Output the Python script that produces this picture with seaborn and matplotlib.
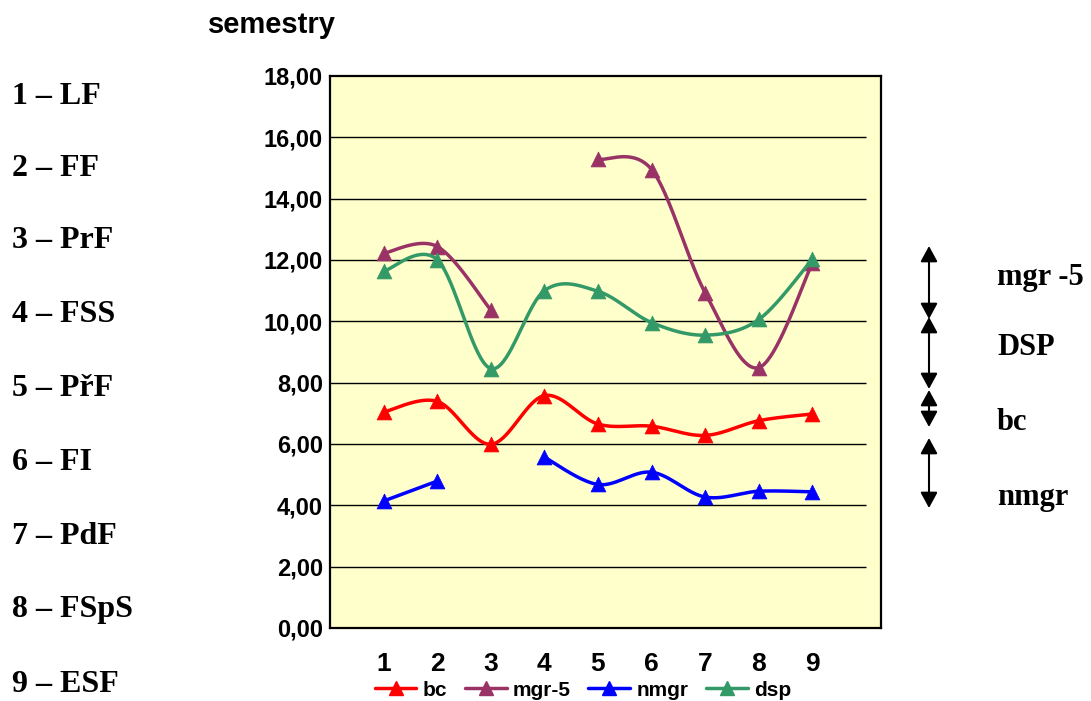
import numpy as np
import pandas as pd
import matplotlib
matplotlib.use("Agg")
import matplotlib.pyplot as plt
from matplotlib.lines import Line2D
import seaborn as sns

# ---------------- data ----------------
semesters = [1, 2, 3, 4, 5, 6, 7, 8, 9]
bc = [7.04, 7.39, 5.99, 7.58, 6.65, 6.58, 6.28, 6.76, 6.98]
mgr5 = [12.22, 12.44, 10.37, np.nan, 15.28, 14.95, 10.93, 8.49, 11.90]
nmgr = [4.14, 4.79, np.nan, 5.57, 4.68, 5.08, 4.27, 4.46, 4.44]
dsp = [11.63, 12.01, 8.46, 11.00, 10.98, 9.96, 9.55, 10.06, 12.03]
series_names = ["bc", "mgr-5", "nmgr", "dsp"]
series_values = [bc, mgr5, nmgr, dsp]
series_colors = ["#FF0000", "#993366", "#0000FF", "#339966"]
y_ticks = [0, 2, 4, 6, 8, 10, 12, 14, 16, 18]
left_labels = ["1 – LF", "2 – FF", "3 – PrF", "4 – FSS", "5 – PřF",
               "6 – FI", "7 – PdF", "8 – FSpS", "9 – ESF"]
right_labels = ["mgr -5", "DSP", "bc", "nmgr"]
title_text = "semestry"


def smooth_segment(xs, ys, n=40):
    pts = np.column_stack([xs, ys]).astype(float)
    if len(pts) < 2:
        return pts[:, 0], pts[:, 1]
    out = []
    m = len(pts)
    for i in range(m - 1):
        p0 = pts[i - 1] if i > 0 else pts[i]
        p1 = pts[i]
        p2 = pts[i + 1]
        p3 = pts[i + 2] if i + 2 < m else pts[i + 1]
        c1 = p1 + (p2 - p0) / 6.0
        c2 = p2 - (p3 - p1) / 6.0
        t = np.linspace(0, 1, n)[:, None]
        b = ((1 - t) ** 3) * p1 + 3 * ((1 - t) ** 2) * t * c1 + 3 * (1 - t) * t ** 2 * c2 + t ** 3 * p2
        out.append(b if i == 0 else b[1:])
    out = np.vstack(out)
    return out[:, 0], out[:, 1]


def segments(xs, ys):
    segs, cur = [], []
    for x, y in zip(xs, ys):
        if np.isnan(y):
            if cur:
                segs.append(cur)
            cur = []
        else:
            cur.append((x, y))
    if cur:
        segs.append(cur)
    return segs


sns.set_style("white")
plt.rcParams['font.family'] = ['Liberation Sans', 'DejaVu Sans']
plt.rcParams['text.color'] = 'black'
plt.rcParams['xtick.color'] = 'black'
plt.rcParams['ytick.color'] = 'black'

fig = plt.figure(figsize=(10.91, 7.01), dpi=100)
ax = fig.add_axes([330 / 1091, 1 - 628 / 701, (881 - 330) / 1091, (628 - 76) / 701])
ax.set_facecolor("#FFFFCC")

# gridlines (end at category 10 like the original)
ax.hlines(y_ticks[1:-1], 0, 10, colors="black", linewidth=1.0, zorder=1)

for k, (name, vals, col) in enumerate(zip(series_names, series_values, series_colors)):
    vals = np.array(vals, dtype=float)
    for seg in segments(semesters, vals):
        sx, sy = zip(*seg)
        cx, cy = smooth_segment(sx, sy)
        df = pd.DataFrame({"x": cx, "y": cy})
        sns.lineplot(data=df, x="x", y="y", sort=False, estimator=None, ax=ax,
                     color=col, linewidth=2.5, zorder=3 + k)
    dfp = pd.DataFrame({"x": semesters, "y": vals}).dropna()
    sns.scatterplot(data=dfp, x="x", y="y", ax=ax, marker="^", s=115, color=col,
                    edgecolor=col, linewidth=0.5, zorder=3.5 + k)

ax.set_xlim(0, 10.28)
ax.set_ylim(0, 18)
ax.set_xlabel("")
ax.set_ylabel("")
ax.set_yticks(y_ticks)
ax.set_yticklabels([f"{v:.2f}".replace(".", ",") for v in y_ticks],
                   fontsize=17, fontweight="bold")
ax.set_xticks(list(range(1, 11)))
ax.set_xticklabels([str(s) for s in semesters] + [""], fontsize=19, fontweight="bold")
ax.tick_params(axis="x", direction="inout", length=7, width=1, pad=14, colors="black")
ax.tick_params(axis="y", direction="out", length=4, width=1, pad=1, colors="black")
for sp in ax.spines.values():
    sp.set_visible(True)
    sp.set_color("black")
    sp.set_linewidth(1.6)

# legend
handles = [Line2D([0], [0], color=c, lw=2.5, marker="^", markersize=9.5) for c in series_colors]
fig.legend(handles, series_names, loc="center", bbox_to_anchor=(583 / 1091, 1 - 690 / 701),
           ncol=4, frameon=False, prop={"weight": "bold", "size": 15},
           handlelength=2.0, handletextpad=0.3, columnspacing=0.85, borderaxespad=0)

# title
fig.text(208 / 1091, 1 - 25 / 701, title_text, fontsize=21, fontweight="bold",
         ha="left", va="center")

# left labels
left_y = [97, 168, 241, 314, 388, 463, 537, 610, 684]
for lbl, yy in zip(left_labels, left_y):
    fig.text(12 / 1091, 1 - yy / 701, lbl, fontsize=23, fontweight="bold",
             family=["Liberation Serif", "DejaVu Serif"], ha="left", va="center")

# right arrows and labels
arrows = [(246, 319), (317, 389), (390, 427), (438, 508)]
for (ya, yb) in arrows:
    fig.add_artist(matplotlib.patches.FancyArrowPatch(
        (929 / 1091, 1 - ya / 701), (929 / 1091, 1 - yb / 701),
        transform=fig.transFigure, arrowstyle="<|-|>,head_length=0.7,head_width=0.38",
        mutation_scale=13.5, color="black", lw=1.5, shrinkA=0, shrinkB=0))
right_y = [277, 347, 423, 498]
for lbl, yy in zip(right_labels, right_y):
    fig.text(997 / 1091, 1 - yy / 701, lbl, fontsize=22, fontweight="bold",
             family=["Liberation Serif", "DejaVu Serif"], ha="left", va="center")

fig.savefig("out.png", dpi=100)
